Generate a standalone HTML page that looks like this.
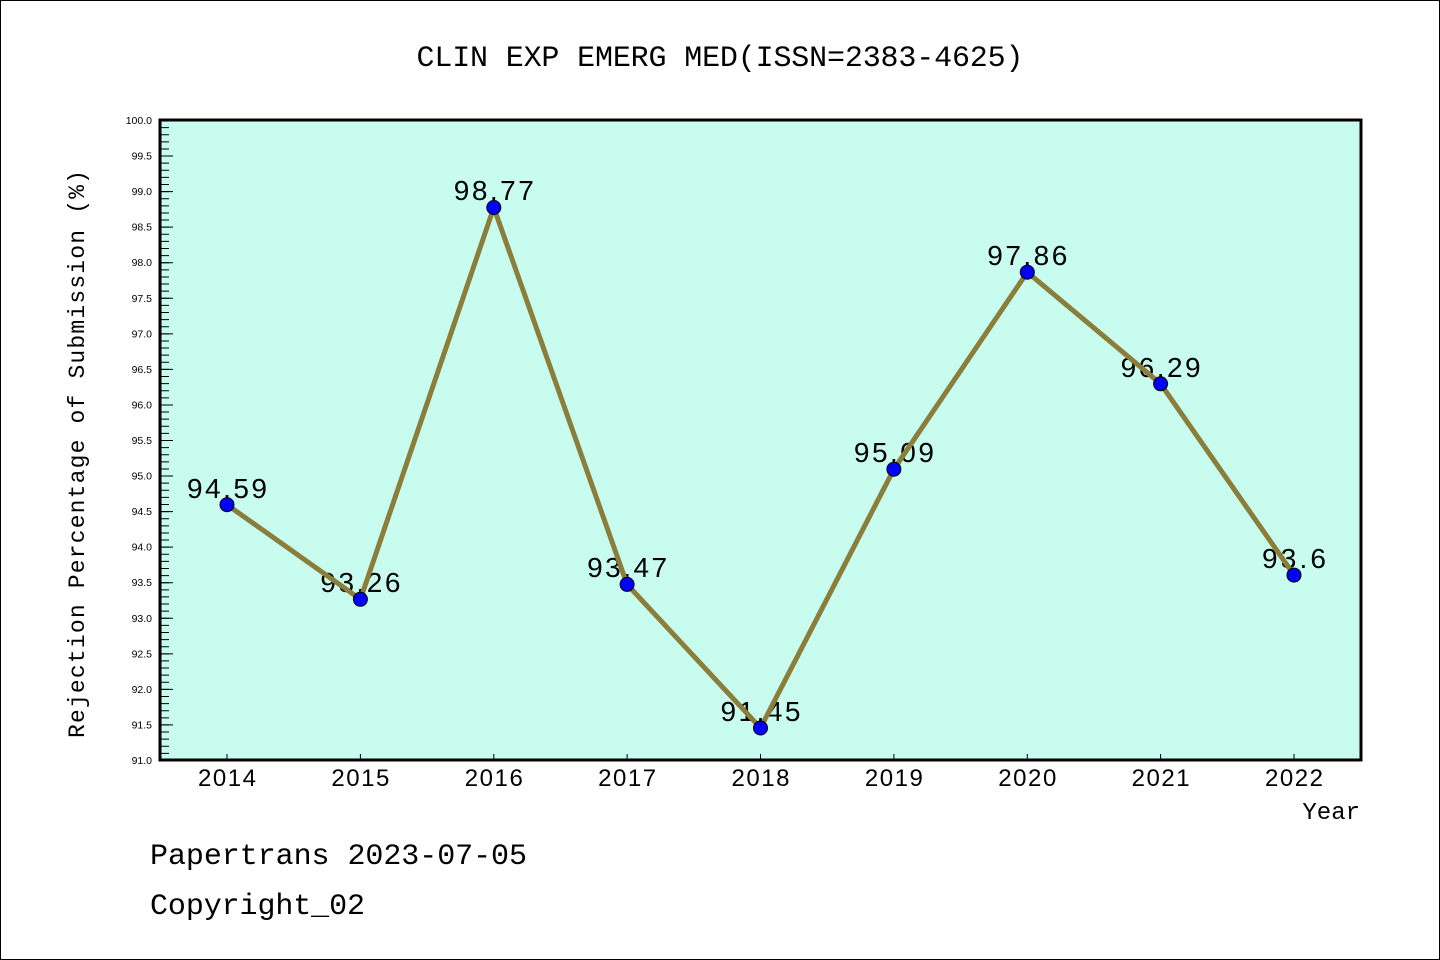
<!DOCTYPE html>
<html><head><meta charset="utf-8"><style>body{margin:0;background:#fff}svg{display:block}</style></head>
<body>
<svg width="1440" height="960" xmlns="http://www.w3.org/2000/svg">
<rect x="0.5" y="0.5" width="1439" height="959" fill="#fff" stroke="#000"/>
<text x="720" y="66" text-anchor="middle" font-family="Liberation Mono, monospace" font-size="30" textLength="607">CLIN EXP EMERG MED(ISSN=2383-4625)</text>
<rect x="160" y="120" width="1201" height="640" fill="#c8fcee"/>
<line x1="165" y1="120" x2="165" y2="760.5" stroke="#000" stroke-width="8" stroke-dasharray="1 6.111"/>
<line x1="167" y1="120" x2="167" y2="760.5" stroke="#000" stroke-width="12" stroke-dasharray="1 34.555"/>
<g stroke="#000" stroke-width="1">
<line x1="227" y1="760" x2="227" y2="754"/><line x1="360.4" y1="760" x2="360.4" y2="754"/><line x1="493.8" y1="760" x2="493.8" y2="754"/><line x1="627.1" y1="760" x2="627.1" y2="754"/><line x1="760.5" y1="760" x2="760.5" y2="754"/><line x1="893.9" y1="760" x2="893.9" y2="754"/><line x1="1027.3" y1="760" x2="1027.3" y2="754"/><line x1="1160.6" y1="760" x2="1160.6" y2="754"/><line x1="1294" y1="760" x2="1294" y2="754"/>
</g>
<rect x="160" y="120" width="1201" height="640" fill="none" stroke="#000" stroke-width="3"/>
<g font-family="Liberation Sans, sans-serif" font-size="10.5" text-anchor="end">
<text x="152" y="124">100.0</text><text x="152" y="159.6">99.5</text><text x="152" y="195.1">99.0</text><text x="152" y="230.7">98.5</text><text x="152" y="266.2">98.0</text><text x="152" y="301.8">97.5</text><text x="152" y="337.3">97.0</text><text x="152" y="372.9">96.5</text><text x="152" y="408.4">96.0</text><text x="152" y="444">95.5</text><text x="152" y="479.6">95.0</text><text x="152" y="515.1">94.5</text><text x="152" y="550.7">94.0</text><text x="152" y="586.2">93.5</text><text x="152" y="621.8">93.0</text><text x="152" y="657.3">92.5</text><text x="152" y="692.9">92.0</text><text x="152" y="728.4">91.5</text><text x="152" y="764">91.0</text>
</g>
<g font-family="Liberation Sans, sans-serif" font-size="24" text-anchor="middle">
<text x="227" y="786" textLength="58">2014</text><text x="360.4" y="786" textLength="58">2015</text><text x="493.8" y="786" textLength="58">2016</text><text x="627.1" y="786" textLength="58">2017</text><text x="760.5" y="786" textLength="58">2018</text><text x="893.9" y="786" textLength="58">2019</text><text x="1027.3" y="786" textLength="58">2020</text><text x="1160.6" y="786" textLength="58">2021</text><text x="1294" y="786" textLength="58">2022</text>
</g>
<text x="1360" y="819" text-anchor="end" font-family="Liberation Mono, monospace" font-size="24">Year</text>
<text transform="translate(84,454) rotate(-90)" text-anchor="middle" font-family="Liberation Mono, monospace" font-size="23" textLength="568">Rejection Percentage of Submission (%)</text>
<g font-family="Liberation Sans, sans-serif" font-size="28" text-anchor="middle">
<text x="227" y="498" textLength="80">94.59</text><text x="360.4" y="592" textLength="80">93.26</text><text x="493.8" y="200" textLength="80">98.77</text><text x="627.1" y="577" textLength="80">93.47</text><text x="760.5" y="721" textLength="80">91.45</text><text x="893.9" y="462" textLength="80">95.09</text><text x="1027.3" y="265" textLength="80">97.86</text><text x="1160.6" y="377" textLength="80">96.29</text><text x="1294" y="568" textLength="64">93.6</text>
</g>
<polyline fill="none" stroke="#8b7d3a" stroke-width="5" points="227,504.7 360.4,599.3 493.8,207.5 627.1,584.4 760.5,728 893.9,469.2 1027.3,272.2 1160.6,383.8 1294,575.1"/>
<g fill="#0000ff" stroke="#000" stroke-width="1">
<circle cx="227" cy="504.7" r="7"/><circle cx="360.4" cy="599.3" r="7"/><circle cx="493.8" cy="207.5" r="7"/><circle cx="627.1" cy="584.4" r="7"/><circle cx="760.5" cy="728" r="7"/><circle cx="893.9" cy="469.2" r="7"/><circle cx="1027.3" cy="272.2" r="7"/><circle cx="1160.6" cy="383.8" r="7"/><circle cx="1294" cy="575.1" r="7"/>
</g>
<text x="150" y="864" font-family="Liberation Mono, monospace" font-size="30" textLength="377">Papertrans 2023-07-05</text>
<text x="150" y="914" font-family="Liberation Mono, monospace" font-size="30" textLength="215">Copyright_02</text>
</svg>
</body></html>
